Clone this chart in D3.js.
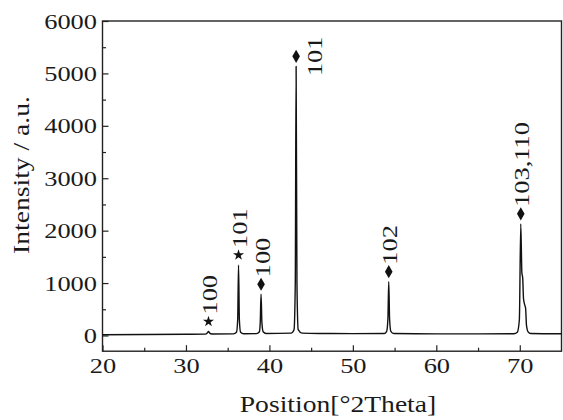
<!DOCTYPE html>
<html>
<head>
<meta charset="utf-8">
<script src="https://cdn.jsdelivr.net/npm/d3@7"></script>
<style>
  html, body { margin: 0; padding: 0; background: #fff; }
  svg { display: block; }
  text { font-family: "Liberation Serif", "Times New Roman", serif; fill: #1a1a1a; }
</style>
</head>
<body>
<svg id="chart" width="563" height="420"></svg>
<script>
// XRD scan: diffraction angle (2θ, degrees) and counts
const scanAngle = [
  20, 25, 30, 32.3, 32.55, 32.7, 32.85, 33.1,
  35.7, 36.05, 36.2, 36.3, 36.4, 36.55, 36.9,
  38.45, 38.8, 38.9, 39.0, 39.1, 39.25, 39.6,
  42.6, 42.95, 43.1, 43.2, 43.3, 43.45, 43.9,
  46, 50, 53.75, 54.05, 54.2, 54.3, 54.4, 54.55, 54.9,
  60, 65, 69.3, 69.7, 69.95, 70.12, 70.25, 70.35, 70.45, 70.6, 70.7, 70.8, 71.0, 71.3, 75
];
const scanCounts = [
  15, 18, 22, 25, 45, 75, 45, 28,
  30, 60, 300, 1345, 300, 60, 32,
  35, 70, 250, 786, 250, 70, 38,
  45, 110, 1000, 5135, 1000, 110, 45,
  38, 35, 38, 80, 320, 1027, 320, 80, 38,
  30, 30, 32, 60, 300, 2130, 1200, 1100, 700, 580, 520, 200, 70, 38, 32
];

// Indexed reflections
const peakAngle  = [32.7, 36.3, 39.0, 43.2, 54.3, 70.12];
const peakHeight = [75, 1345, 786, 5135, 1027, 2130];
const peakHkl    = ["100", "101", "100", "101", "102", "103,110"];
const peakPhase  = ["star", "star", "diamond", "diamond", "diamond", "diamond"];

// Axis ticks
const xMajorTicks = [20, 30, 40, 50, 60, 70];
const xMinorTicks = [25, 35, 45, 55, 65];
const yMajorTicks = [0, 1000, 2000, 3000, 4000, 5000, 6000];
const yMinorTicks = [500, 1500, 2500, 3500, 4500, 5500];

const svg = d3.select("#chart");
const plotLeft = 102.5, plotRight = 561.5, plotTop = 21, plotBottom = 351.2;
const stretch = 1.2;   // wide serif lettering
const fontSize = 22;
const titleSize = 23;

const x = d3.scaleLinear().domain([20, 75]).range([plotLeft, plotRight]);
const y = d3.scaleLinear().domain([-300, 6000]).range([plotBottom, plotTop]);

// Frame
svg.append("rect")
  .attr("x", plotLeft).attr("y", plotTop)
  .attr("width", plotRight - plotLeft).attr("height", plotBottom - plotTop)
  .attr("fill", "none").attr("stroke", "#222").attr("stroke-width", 1.4);

// Axes (ticks point inward)
svg.append("g").attr("transform", `translate(0,${plotBottom})`)
  .call(d3.axisBottom(x).tickValues(xMajorTicks).tickSize(-6).tickPadding(6)
        .tickFormat(d3.format("d")));
svg.append("g").attr("transform", `translate(0,${plotBottom})`)
  .call(d3.axisBottom(x).tickValues(xMinorTicks).tickSize(-3.5).tickFormat(""));

svg.append("g").attr("transform", `translate(${plotLeft},0)`)
  .call(d3.axisLeft(y).tickValues(yMajorTicks).tickSize(-6).tickPadding(4.6)
        .tickFormat(d3.format("d")));
svg.append("g").attr("transform", `translate(${plotLeft},0)`)
  .call(d3.axisLeft(y).tickValues(yMinorTicks).tickSize(-3.5).tickFormat(""));

svg.selectAll(".domain").remove();
svg.selectAll(".tick line").attr("stroke", "#222").attr("stroke-width", 1.2);
svg.selectAll(".tick text")
  .attr("font-size", fontSize)
  .attr("font-family", "Liberation Serif, Times New Roman, serif")
  .attr("fill", "#1a1a1a")
  .attr("transform", `scale(${stretch},1)`);

// Axis titles
svg.append("text")
  .attr("transform", `translate(338,404) scale(${stretch},1)`)
  .attr("text-anchor", "middle").attr("dy", "0.35em")
  .attr("font-size", titleSize)
  .text("Position[°2Theta]");

svg.append("text")
  .attr("transform", `translate(21,175) rotate(-90) scale(${stretch},1)`)
  .attr("text-anchor", "middle").attr("dy", "0.35em")
  .attr("font-size", titleSize)
  .text("Intensity / a.u.");

// Diffraction pattern
const line = d3.line()
  .x((d, i) => x(scanAngle[i]))
  .y(d => y(d))
  .curve(d3.curveMonotoneX);

svg.append("path")
  .datum(scanCounts)
  .attr("d", line)
  .attr("fill", "none")
  .attr("stroke", "#111")
  .attr("stroke-width", 1.4)
  .attr("stroke-linejoin", "round");

// Phase markers and Miller indices
const markerGap = 10;
const symbols = { star: d3.symbolStar, diamond: d3.symbolDiamond };
const labels = svg.append("g");

peakAngle.forEach((a, i) => {
  const px = x(a);
  const my = y(peakHeight[i]) - markerGap;
  labels.append("path")
    .attr("transform", `translate(${px},${my})`)
    .attr("d", d3.symbol().type(symbols[peakPhase[i]])
      .size(peakPhase[i] === "star" ? 38 : 50)())
    .attr("fill", "#111");

  // Tallest reflection: index printed beside the peak, others stacked above the marker
  const beside = peakHeight[i] > 5000;
  const tx = beside ? px + 18 : px + 1;
  const ty = beside ? my : my - 7;
  labels.append("text")
    .attr("transform", `translate(${tx},${ty}) rotate(-90) scale(${stretch},1)`)
    .attr("text-anchor", beside ? "middle" : "start")
    .attr("dy", "0.35em")
    .attr("font-size", fontSize)
    .text(peakHkl[i]);
});
</script>
</body>
</html>
